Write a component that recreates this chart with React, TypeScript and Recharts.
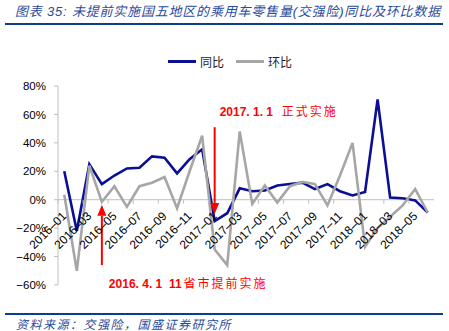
import React from "react";
import { LineChart, Line, XAxis, YAxis, ReferenceLine } from "recharts";

const months = [
  "2016-01", "2016-02", "2016-03", "2016-04", "2016-05", "2016-06",
  "2016-07", "2016-08", "2016-09", "2016-10", "2016-11", "2016-12",
  "2017-01", "2017-02", "2017-03", "2017-04", "2017-05", "2017-06",
  "2017-07", "2017-08", "2017-09", "2017-10", "2017-11", "2017-12",
  "2018-01", "2018-02", "2018-03", "2018-04", "2018-05", "2018-06",
];

// 同比
const yoy = [
  20, -22, 25, 11, 17, 22, 22.5, 30.5, 29.5, 18.5, 28.5, 35.5,
  -15, -9.5, 8, 6, 6.5, 10, 11, 12, 7.5, 11, 6, 3,
  5.5, 70.5, 1.5, 1, -0.5, -9,
];

// 环比
const mom = [
  3.5, -50, 24, -1.5, 9.5, -5, 9.5, 12, 16, -6, 20, 45,
  -35, -46, 48, -3, 10, -2, 9.5, 12.5, 11, -4, 17, 40,
  -33, -20, -12, -4, 7.5, -9,
];

const yTicks = [-60, -40, -20, 0, 20, 40, 60, 80];

const W = 449;
const H = 331;
const PLOT_LEFT = 58;
const PLOT_RIGHT = 434;
const PLOT_TOP = 86;
const PLOT_BOTTOM = 285;
const Y_MIN = -60;
const Y_MAX = 80;
const ZERO_Y = PLOT_TOP + ((PLOT_BOTTOM - PLOT_TOP) * Y_MAX) / (Y_MAX - Y_MIN);
const HALF_BAND = (PLOT_RIGHT - PLOT_LEFT) / months.length / 2;

const AXIS_GRAY = "#bfbfbf";
const BLUE = "#0b0f96";
const GRAY = "#a6a6a6";
const RED = "#ff0000";

const data = months.map((m, i) => ({ month: m, yoy: yoy[i], mom: mom[i] }));

const XTick = (props: any) => {
  const { x, payload } = props;
  const ax = x + 3;
  const ay = ZERO_Y + 17;
  return (
    <g>
      <line x1={x - HALF_BAND} x2={x - HALF_BAND} y1={ZERO_Y} y2={ZERO_Y + 4} stroke={AXIS_GRAY} />
      <text
        x={ax}
        y={ay}
        transform={`rotate(-45 ${ax} ${ay})`}
        textAnchor="end"
        fontSize={12}
        fill="#000"
        fontFamily="'Liberation Sans', Arial, sans-serif"
      >
        {String(payload.value).replace("-", "–")}
      </text>
    </g>
  );
};

const arrowShape =
  (date: string, note: string, dx: number, dy: number) =>
  (p: any) => {
    const { x1, y1, x2, y2 } = p;
    const dir = y2 > y1 ? 1 : -1;
    const head = 11;
    return (
      <g>
        <line x1={x1} y1={y1} x2={x2} y2={y2 - dir * head} stroke={RED} strokeWidth={2} />
        <polygon
          points={`${x2 - 4.5},${y2 - dir * head} ${x2 + 4.5},${y2 - dir * head} ${x2},${y2}`}
          fill={RED}
        />
        <text x={x1 + dx} y={y1 + dy} fill={RED} fontSize={12} style={{ whiteSpace: "pre" }}>
          <tspan fontWeight="bold" fontFamily="'Liberation Sans', Arial, sans-serif">
            {date}
          </tspan>
          <tspan dx={2} fontFamily="'Noto Sans CJK SC', sans-serif" letterSpacing={2}>
            {note}
          </tspan>
        </text>
      </g>
    );
  };

export default function App() {
  return (
    <div style={{ position: "absolute", left: 0, top: 0, width: W, height: H, background: "#fff" }}>
      <LineChart
        width={W}
        height={H}
        data={data}
        margin={{ top: PLOT_TOP, bottom: H - PLOT_BOTTOM - 1, left: 8, right: W - PLOT_RIGHT }}
      >
        <XAxis
          dataKey="month"
          height={1}
          interval={1}
          axisLine={false}
          tickLine={false}
          tick={<XTick />}
          padding={{ left: HALF_BAND, right: HALF_BAND }}
        />
        <YAxis
          width={50}
          domain={[Y_MIN, Y_MAX]}
          ticks={yTicks}
          interval={0}
          tickFormatter={(v: number) => (v < 0 ? "−" + Math.abs(v) : String(v)) + "%"}
          axisLine={{ stroke: AXIS_GRAY }}
          tickLine={{ stroke: AXIS_GRAY }}
          tickSize={4}
          tickMargin={8}
          tick={{ fontSize: 11.5, fill: "#000", fontFamily: "'Liberation Sans', Arial, sans-serif" }}
        />
        <ReferenceLine y={0} stroke={AXIS_GRAY} strokeWidth={1} />
        <Line type="linear" dataKey="yoy" name="同比" stroke={BLUE} strokeWidth={2.6} dot={false} isAnimationActive={false} />
        <Line type="linear" dataKey="mom" name="环比" stroke={GRAY} strokeWidth={2.6} dot={false} isAnimationActive={false} />
        <ReferenceLine
          segment={[{ x: "2017-01", y: 51 }, { x: "2017-01", y: -10 }]}
          shape={arrowShape("2017. 1. 1  ", "正式实施", 5, -11)}
        />
        <ReferenceLine
          segment={[{ x: "2016-04", y: -46 }, { x: "2016-04", y: -3.5 }]}
          shape={arrowShape("2016. 4. 1  11", "省市提前实施", 7, 23)}
        />
      </LineChart>

      <div
        style={{
          position: "absolute",
          left: 15,
          top: 1,
          fontSize: 13,
          fontStyle: "italic",
          color: "#2a4a9c",
          letterSpacing: 0.8,
          whiteSpace: "nowrap",
          fontFamily: "'Liberation Sans', 'Noto Sans CJK SC', sans-serif",
        }}
      >
        图表 35:  未提前实施国五地区的乘用车零售量(交强险)同比及环比数据
      </div>
      <div style={{ position: "absolute", left: 5, top: 23, width: 438, height: 2, background: "#0b3d91" }} />

      <div
        style={{
          position: "absolute",
          left: 168,
          top: 53,
          display: "flex",
          alignItems: "center",
          fontSize: 12,
          color: "#222",
          fontFamily: "'Noto Sans CJK SC', sans-serif",
        }}
      >
        <span style={{ display: "inline-block", width: 28, height: 3, background: BLUE, marginRight: 4 }} />
        <span>同比</span>
        <span style={{ display: "inline-block", width: 28, height: 3, background: GRAY, marginLeft: 12, marginRight: 4 }} />
        <span>环比</span>
      </div>

      <div style={{ position: "absolute", left: 5, top: 313, width: 438, height: 2, background: "#0b3d91" }} />
      <div
        style={{
          position: "absolute",
          left: 16,
          top: 315,
          fontSize: 12,
          fontStyle: "italic",
          color: "#2a4a9c",
          letterSpacing: 1.5,
          whiteSpace: "nowrap",
          fontFamily: "'Noto Sans CJK SC', sans-serif",
        }}
      >
        资料来源：交强险，国盛证券研究所
      </div>
    </div>
  );
}
